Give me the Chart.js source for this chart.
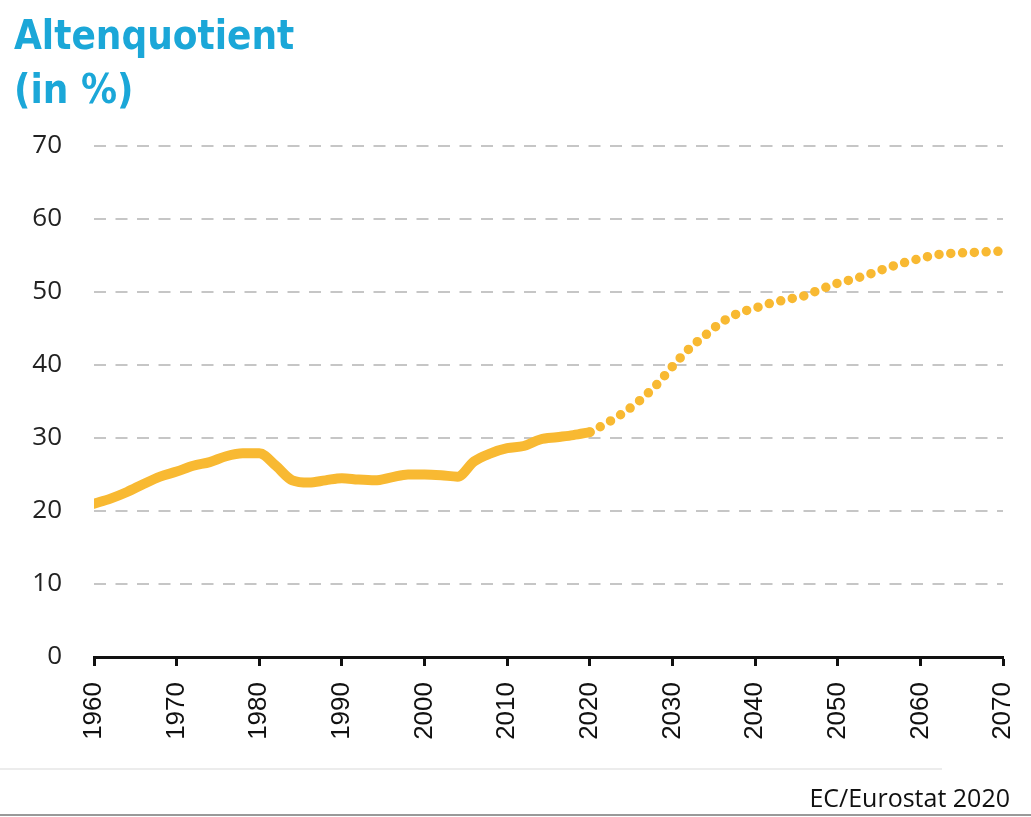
<!DOCTYPE html>
<html>
<head>
<meta charset="utf-8">
<script src="https://cdn.jsdelivr.net/npm/chart.js@4/dist/chart.umd.min.js"></script>
<style>
  html, body { margin: 0; padding: 0; background: #fff; }
  #wrap { position: relative; width: 1031px; height: 817px; overflow: hidden; }
  #chart { position: absolute; left: 0; top: 0; }
  .title { position: absolute; left: 14px; color: #1BA7D8; font-family: "Liberation Sans Narrow", "DejaVu Sans Condensed", sans-serif; font-weight: bold; font-size: 40px; line-height: 1; white-space: nowrap; }
  #src { position: absolute; right: 21px; top: 780px; font-family: "Open Sans", "Noto Sans", sans-serif; font-size: 25px; color: #111; white-space: nowrap; }
  #line1 { position: absolute; left: 0; top: 768px; width: 942px; height: 2px; background: #ececec; }
  #line2 { position: absolute; left: 0; top: 814px; width: 1031px; height: 2px; background: #999; }
</style>
</head>
<body>
<div id="wrap">
  <canvas id="chart" width="1031" height="817"></canvas>
  <div class="title" style="top:15px">Altenquotient</div>
  <div class="title" style="top:69px">(in %)</div>
  <div id="line1"></div>
  <div id="src">EC/Eurostat 2020</div>
  <div id="line2"></div>
</div>
<script>
const histYears  = [1960,1962,1964,1966,1968,1970,1972,1974,1976,1978,1980,1982,1984,1986,1988,1990,1992,1994,1996,1998,2000,2002,2004,2006,2008,2010,2012,2014,2016,2018,2020];
const histValues = [21.0,21.7,22.6,23.7,24.7,25.4,26.2,26.7,27.5,27.9,27.9,26.2,24.2,23.9,24.2,24.5,24.3,24.2,24.6,25.0,25.0,24.9,24.7,26.8,27.9,28.6,28.9,29.8,30.1,30.4,30.8];
const projYears  = [2020,2022,2024,2026,2028,2030,2032,2034,2036,2038,2040,2042,2044,2046,2048,2050,2052,2054,2056,2058,2060,2062,2064,2066,2068,2070];
const projValues = [30.8,32.0,33.4,35.1,37.2,39.8,42.2,44.1,45.9,47.1,47.8,48.5,49.0,49.5,50.4,51.2,51.8,52.5,53.3,54.0,54.6,55.1,55.3,55.4,55.5,55.6];
const yTicks = [0,10,20,30,40,50,60,70];
const xTicks = [1960,1970,1980,1990,2000,2010,2020,2030,2040,2050,2060,2070];

const lineColor = '#F8B932';
const toPts = (xs, ys) => xs.map((x, i) => ({ x: x, y: ys[i] }));

new Chart(document.getElementById('chart'), {
  type: 'line',
  data: {
    datasets: [
      {
        data: toPts(histYears, histValues),
        borderColor: lineColor,
        borderWidth: 10,
        borderCapStyle: 'round',
        borderJoinStyle: 'round',
        pointRadius: 0,
        cubicInterpolationMode: 'monotone',
        fill: false
      },
      {
        data: toPts(projYears, projValues),
        borderColor: lineColor,
        borderWidth: 9.5,
        borderCapStyle: 'round',
        borderDash: [0, 11.8],
        pointRadius: 0,
        cubicInterpolationMode: 'monotone',
        fill: false
      }
    ]
  },
  options: {
    responsive: false,
    animation: false,
    events: [],
    layout: { padding: { top: 146, right: 28, left: 0, bottom: 0 } },
    plugins: { legend: { display: false }, tooltip: { enabled: false }, title: { display: false } },
    scales: {
      x: {
        type: 'linear',
        min: 1960,
        max: 2070,
        afterBuildTicks: (s) => { s.ticks = xTicks.map(v => ({ value: v })); },
        afterFit: (s) => { s.height = 817 - 657; s.paddingRight = 0; s.paddingLeft = 0; },
        ticks: {
          minRotation: 90,
          maxRotation: 90,
          padding: 16,
          color: '#111',
          font: { family: '"Liberation Sans", Arial, sans-serif', size: 26 },
          callback: (v) => String(v)
        },
        grid: {
          drawOnChartArea: false,
          drawTicks: true,
          tickLength: 9,
          tickWidth: 3,
          tickColor: '#111'
        },
        border: { display: true, color: '#111', width: 3 }
      },
      y: {
        min: 0,
        max: 70,
        afterBuildTicks: (s) => { s.ticks = yTicks.map(v => ({ value: v })); },
        afterFit: (s) => { s.width = 94; },
        ticks: {
          padding: 32,
          color: '#222',
          font: { family: '"Open Sans", "Noto Sans", sans-serif', size: 26 }
        },
        grid: {
          drawTicks: false,
          color: (ctx) => ctx.tick && ctx.tick.value === 0 ? 'rgba(0,0,0,0)' : '#c6c6c6',
          lineWidth: 2
        },
        border: { display: false, dash: [12, 9.5] }
      }
    }
  }
});
</script>
</body>
</html>
